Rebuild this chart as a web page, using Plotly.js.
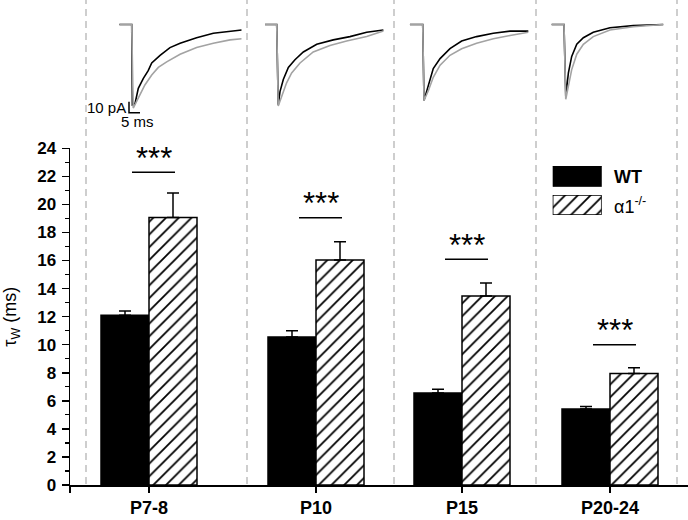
<!DOCTYPE html>
<html>
<head>
<meta charset="utf-8">
<script src="https://cdn.plot.ly/plotly-3.0.1.min.js"></script>
<style>html,body{margin:0;padding:0;background:#fff;}#chart{width:688px;height:520px;}</style>
</head>
<body>
<div id="chart"></div>
<script>
// ---------- DATA ----------
const categories = ['P7-8', 'P10', 'P15', 'P20-24'];
const seriesNames = ['WT', 'α1<sup>-/-</sup>'];
const wtMean = [12.1, 10.55, 6.55, 5.42];
const wtSem  = [0.3, 0.45, 0.28, 0.18];
const koMean = [19.07, 16.04, 13.47, 7.95];
const koSem  = [1.75, 1.3, 0.93, 0.4];
const sigLevel = [22.3, 19.05, 16.1, 10.0];
const sigText = ['***', '***', '***', '***'];
const yTickVals = [0, 2, 4, 6, 8, 10, 12, 14, 16, 18, 20, 22, 24];

// example current traces (time in ms, current in pA)
const p78WtT = [-5.6, 0, 0.3, 1.5, 3.0, 5.3, 7.5, 9.1, 12.9, 17.4, 22.0, 29.5, 37.1, 44.7, 50.0];
const p78WtI = [0, 0, -73, -72, -58, -49, -42, -35, -28, -21, -17, -12, -8, -6, -5];
const p78KoT = [-5.6, 0, 0.7, 3.0, 6.0, 9.1, 12.1, 15.9, 22.0, 29.5, 37.1, 44.7, 50.0];
const p78KoI = [0, 0, -76, -67, -55, -46, -39, -34, -27, -21, -17, -14, -13];

const p10WtT = [-5.3, 0, 0.7, 1.5, 3.0, 5.3, 8.3, 12.1, 18.2, 25.7, 33.3, 40.9, 48.5];
const p10WtI = [0, 0, -73, -61, -50, -39, -32, -25, -18, -14, -11, -7, -5];
const p10KoT = [-5.3, 0, 0.7, 2.3, 4.5, 6.8, 10.6, 16.6, 24.2, 31.8, 40.9, 48.5];
const p10KoI = [0, 0, -74, -65, -53, -44, -35, -25, -19, -15, -11, -6];

const p15WtT = [-5.8, 0, 0.6, 2.6, 4.8, 7.9, 12.4, 17.7, 24.5, 32.1, 39.7, 48.0];
const p15WtI = [0, 0, -69, -54, -40, -31, -22, -15, -11, -8, -6, -6];
const p15KoT = [-5.8, 0, 0.6, 2.6, 4.8, 7.9, 12.4, 17.7, 24.5, 32.1, 39.7, 48.0];
const p15KoI = [0, 0, -69, -60, -48, -37, -28, -22, -17, -13, -10, -7];

const p20WtT = [-5.6, 0, 0.8, 2.0, 3.5, 5.8, 8.8, 13.3, 20.9, 31.5, 45.1];
const p20WtI = [0, 0, -65, -44, -29, -18, -12, -7, -3, -1, 0];
const p20KoT = [-5.6, 0, 0.8, 2.0, 3.5, 5.8, 8.8, 13.3, 20.9, 31.5, 45.1];
const p20KoI = [0, 0, -68, -56, -41, -27, -18, -11, -5, -2, 0];

const scaleBarMs = 5;
const scaleBarPa = 10;

// ---------- LAYOUT CONSTANTS ----------
const FONT = 'Arial, "Liberation Sans", sans-serif';
const PLOT_L = 70, PLOT_W = 618, PLOT_H = 485;
const xp = px => (px - PLOT_L) / PLOT_W;
const yp = py => (PLOT_H - py) / PLOT_H;
const groupCenterPx = [149, 316, 462, 610];
const barWidthPx = 48;
const dividerPx = [86, 247, 394, 536, 677];
const insetDropPx = [131.7, 276.7, 422.7, 564];
const PX_PER_MS = 2.2, PX_PER_PA = 1.1, INSET_BASE_PY = 24.5;
const INSET_TOP_PY = 10, INSET_BOT_PY = 120;
const T_MIN = -8, T_MAX = 50;

const GRAY = '#a3a3a3';
const HATCH = {shape: '/', fgcolor: '#000', bgcolor: '#fff', size: 9, solidity: 0.2};

const insetData = [
  [p78WtT, p78WtI, p78KoT, p78KoI],
  [p10WtT, p10WtI, p10KoT, p10KoI],
  [p15WtT, p15WtI, p15KoT, p15KoI],
  [p20WtT, p20WtI, p20KoT, p20KoI]
];

const traces = [];
// main bars
traces.push({
  type: 'bar', x: groupCenterPx, y: wtMean, name: 'WT',
  width: barWidthPx, offset: -barWidthPx,
  marker: {color: '#000', line: {color: '#000', width: 1.5}},
  error_y: {type: 'data', symmetric: false, array: wtSem, arrayminus: wtSem.map(() => 0),
            color: '#000', thickness: 1.5, width: 6},
  showlegend: false, hoverinfo: 'skip'
});
traces.push({
  type: 'bar', x: groupCenterPx, y: koMean, name: 'α1-/-',
  width: barWidthPx, offset: 0,
  marker: {color: '#fff', line: {color: '#000', width: 1.5}, pattern: HATCH},
  error_y: {type: 'data', symmetric: false, array: koSem, arrayminus: koSem.map(() => 0),
            color: '#000', thickness: 1.5, width: 6},
  showlegend: false, hoverinfo: 'skip'
});

// insets
const layoutInsets = {};
insetData.forEach((d, i) => {
  const ax = i + 2;
  const drop = insetDropPx[i];
  layoutInsets['xaxis' + ax] = {
    domain: [xp(drop + T_MIN * PX_PER_MS), xp(drop + T_MAX * PX_PER_MS)],
    range: [T_MIN, T_MAX], visible: false, anchor: 'y2', fixedrange: true
  };
  traces.push({type: 'scatter', mode: 'lines', x: d[0], y: d[1], xaxis: 'x' + ax, yaxis: 'y2',
    line: {color: '#000', width: 1.6}, showlegend: false, hoverinfo: 'skip'});
  traces.push({type: 'scatter', mode: 'lines', x: d[2], y: d[3], xaxis: 'x' + ax, yaxis: 'y2',
    line: {color: GRAY, width: 1.6}, showlegend: false, hoverinfo: 'skip'});
});
// scale bar on first inset
const sbT0 = (129 - insetDropPx[0]) / PX_PER_MS;
const sbI0 = -(112.7 - INSET_BASE_PY) / PX_PER_PA;
traces.push({type: 'scatter', mode: 'lines',
  x: [sbT0, sbT0, sbT0 + scaleBarMs], y: [sbI0 + scaleBarPa, sbI0, sbI0],
  xaxis: 'x2', yaxis: 'y2', line: {color: '#000', width: 1.5}, showlegend: false, hoverinfo: 'skip'});

// legend keys
traces.push({type: 'bar', orientation: 'h', x: [1], y: [0], width: 1, xaxis: 'x6', yaxis: 'y6',
  marker: {color: '#000', line: {color: '#000', width: 1}}, showlegend: false, hoverinfo: 'skip'});
traces.push({type: 'bar', orientation: 'h', x: [1], y: [0], width: 1, xaxis: 'x7', yaxis: 'y7',
  marker: {color: '#fff', line: {color: '#000', width: 1.5}, pattern: HATCH},
  showlegend: false, hoverinfo: 'skip'});

const shapes = [];
dividerPx.forEach(px => shapes.push({
  type: 'line', xref: 'paper', yref: 'paper', x0: xp(px), x1: xp(px), y0: yp(484), y1: 1,
  line: {color: '#b4b4b4', width: 1.3, dash: '7px,5px'}, layer: 'below'
}));
groupCenterPx.forEach((c, i) => shapes.push({
  type: 'line', xref: 'x', yref: 'y', x0: c - 17, x1: c + 26, y0: sigLevel[i], y1: sigLevel[i],
  line: {color: '#000', width: 1.5}
}));

const annotations = [];
groupCenterPx.forEach((c, i) => annotations.push({
  xref: 'x', yref: 'y', x: c + 5, y: sigLevel[i], text: sigText[i], showarrow: false,
  yanchor: 'middle', xanchor: 'center', yshift: 14, font: {family: FONT, size: 31, color: '#000'}
}));
annotations.push({xref: 'paper', yref: 'paper', x: xp(128), y: yp(107.5), xanchor: 'right', yanchor: 'middle',
  text: scaleBarPa + ' pA', showarrow: false, font: {family: FONT, size: 15, color: '#000'}});
annotations.push({xref: 'paper', yref: 'paper', x: xp(137), y: yp(121.5), xanchor: 'center', yanchor: 'middle',
  text: scaleBarMs + ' ms', showarrow: false, font: {family: FONT, size: 15, color: '#000'}});
annotations.push({xref: 'paper', yref: 'paper', x: xp(612), y: yp(177), xanchor: 'left', yanchor: 'middle',
  text: '<b>' + seriesNames[0] + '</b>', showarrow: false, font: {family: FONT, size: 18, color: '#000'}});
annotations.push({xref: 'paper', yref: 'paper', x: xp(612), y: yp(205), xanchor: 'left', yanchor: 'middle',
  text: seriesNames[1], showarrow: false, font: {family: FONT, size: 18, color: '#000'}});

const layout = Object.assign({
  width: 688, height: 520,
  margin: {l: PLOT_L, r: 0, t: 0, b: 520 - PLOT_H, pad: 0},
  paper_bgcolor: '#fff', plot_bgcolor: 'rgba(0,0,0,0)',
  barmode: 'overlay',
  font: {family: FONT, color: '#000'},
  showlegend: false,
  xaxis: {
    range: [PLOT_L, PLOT_L + PLOT_W], domain: [0, 1], anchor: 'y',
    tickmode: 'array', tickvals: [PLOT_L].concat(groupCenterPx), ticktext: [''].concat(categories.map(c => '<b>' + c + '</b>')),
    ticks: 'outside', ticklen: 6, tickwidth: 1.5, tickcolor: '#000',
    showline: true, linecolor: '#000', linewidth: 1.5, showgrid: false, zeroline: false,
    tickfont: {family: FONT, size: 18, color: '#000'}, fixedrange: true
  },
  yaxis: {
    range: [0, 24], domain: [0, yp(148.3)], anchor: 'x',
    tickmode: 'array', tickvals: yTickVals, ticktext: yTickVals.map(v => '<b>' + v + '</b>'),
    ticks: 'outside', ticklen: 7, tickwidth: 1.5, tickcolor: '#000',
    ticklabelstandoff: 2,
    minor: {tickmode: 'linear', tick0: 0, dtick: 1, ticks: 'outside', ticklen: 4, tickwidth: 1.2, tickcolor: '#000', showgrid: false},
    showline: true, linecolor: '#000', linewidth: 1.5, showgrid: false, zeroline: false,
    tickfont: {family: FONT, size: 17, color: '#000'},
    title: {text: 'τ<sub>W</sub> (ms)', font: {family: FONT, size: 18, color: '#000'}, standoff: 16},
    fixedrange: true
  },
  yaxis2: {domain: [yp(INSET_BOT_PY), yp(INSET_TOP_PY)],
           range: [-(INSET_BOT_PY - INSET_BASE_PY) / PX_PER_PA, (INSET_BASE_PY - INSET_TOP_PY) / PX_PER_PA],
           visible: false, anchor: 'x2', fixedrange: true},
  xaxis6: {domain: [xp(552.7), xp(601.7)], range: [0, 1], visible: false, anchor: 'y6'},
  yaxis6: {domain: [yp(186.7), yp(166)], range: [-0.5, 0.5], visible: false, anchor: 'x6'},
  xaxis7: {domain: [xp(552.7), xp(601.7)], range: [0, 1], visible: false, anchor: 'y7'},
  yaxis7: {domain: [yp(215), yp(195)], range: [-0.5, 0.5], visible: false, anchor: 'x7'},
  shapes: shapes,
  annotations: annotations
}, layoutInsets);

Plotly.newPlot('chart', traces, layout, {displayModeBar: false, staticPlot: true});
</script>
</body>
</html>
